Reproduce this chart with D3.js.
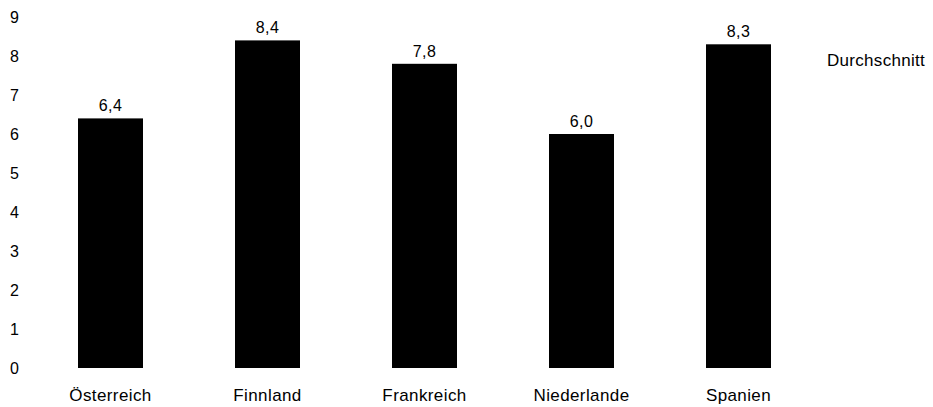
<!DOCTYPE html>
<html>
<head>
<meta charset="utf-8">
<script src="https://cdn.jsdelivr.net/npm/d3@7"></script>
<style>
  html, body { margin: 0; padding: 0; background: #fff; }
  svg { display: block; font-family: "Liberation Sans", Arial, sans-serif; }
</style>
</head>
<body>
<svg id="chart" width="933" height="407"></svg>
<script>
const categories = ["Österreich", "Finnland", "Frankreich", "Niederlande", "Spanien"];
const values = [6.4, 8.4, 7.8, 6.0, 8.3];
const yTicks = [0, 1, 2, 3, 4, 5, 6, 7, 8, 9];
const legendLabel = "Durchschnitt";

const svg = d3.select("#chart");
const data = categories.map((c, i) => ({ c, v: values[i] }));

const x = d3.scaleBand().domain(categories).range([32, 817])
  .paddingInner(0.586).paddingOuter(0.293);
const y = d3.scaleLinear().domain([0, 9]).range([368, 17]);

const fmt = v => d3.format(".1f")(v).replace(".", ",");

// Y axis (labels only)
const yAxis = svg.append("g").attr("transform", "translate(19,0)")
  .call(d3.axisLeft(y).tickValues(yTicks).tickSize(0).tickPadding(0).tickFormat(d3.format("d")));
yAxis.select(".domain").remove();
yAxis.selectAll("text").attr("font-size", 16).attr("font-family", "Liberation Sans, Arial, sans-serif")
  .attr("fill", "#000").attr("dy", "0.35em");

// Bars
svg.append("g").selectAll("rect").data(data).join("rect")
  .attr("x", d => x(d.c))
  .attr("width", x.bandwidth())
  .attr("y", d => y(d.v))
  .attr("height", d => y(0) - y(d.v))
  .attr("fill", "#000");

// Value labels
svg.append("g").selectAll("text").data(data).join("text")
  .attr("x", d => x(d.c) + x.bandwidth() / 2)
  .attr("y", d => y(d.v) - 7)
  .attr("text-anchor", "middle")
  .attr("font-size", 16)
  .attr("letter-spacing", 0.5)
  .attr("fill", "#000")
  .text(d => fmt(d.v));

// Category labels
svg.append("g").selectAll("text").data(data).join("text")
  .attr("x", d => x(d.c) + x.bandwidth() / 2)
  .attr("y", 401)
  .attr("text-anchor", "middle")
  .attr("font-size", 17)
  .attr("letter-spacing", 0.4)
  .attr("fill", "#000")
  .text(d => d.c);

// Legend text
svg.append("text")
  .attr("x", 827).attr("y", 66)
  .attr("font-size", 17)
  .attr("letter-spacing", 0.3)
  .attr("fill", "#000")
  .text(legendLabel);
</script>
</body>
</html>
